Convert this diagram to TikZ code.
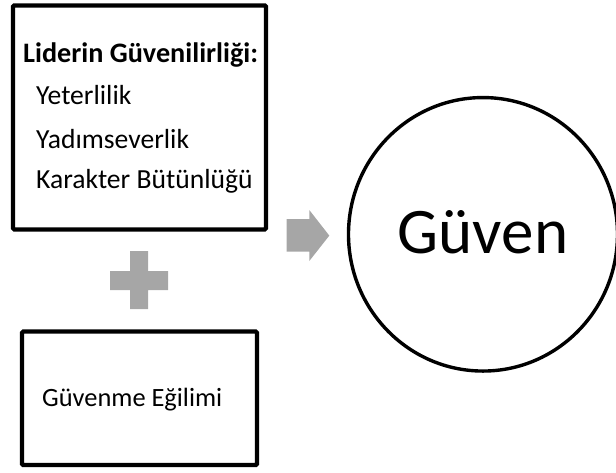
\documentclass[tikz,border=0pt]{standalone}
\usepackage{fontspec}
\setmainfont{Carlito}
\usetikzlibrary{shapes.geometric}
\definecolor{symgray}{HTML}{A6A6A6}
\tikzset{
  box/.style={draw=black, line width=4.2pt, rounded corners=1.2pt, inner sep=0pt},
  ring/.style={draw=black, line width=3.4pt, ellipse, inner sep=0pt},
  txt/.style={anchor=base west, inner sep=0pt, font=\fontsize{27.6}{32}\selectfont},
  symbol/.style={fill=symgray, draw=none}
}
\begin{document}
\begin{tikzpicture}[x=1pt,y=-1pt]
\useasboundingbox (0,0) rectangle (616,472);
\clip (0,0) rectangle (616,472);
% boxes
\node[box, minimum width=253pt, minimum height=224pt] (top) at (139.5,117.4) {};
\node[box, minimum width=235pt, minimum height=133.5pt] (bottom) at (139.5,398.3) {};
\node[ring, minimum width=269pt, minimum height=273.5pt] (guven) at (483,234.3) {};
% texts
\node[txt, font=\fontsize{28.2}{32}\selectfont\bfseries] (t0) at (23,62.3) {Liderin Güvenilirliği:};
\node[txt] (t1) at (36,104) {Yeterlilik};
\node[txt] (t2) at (36,148.3) {Yadımseverlik};
\node[txt] (t3) at (36,188.3) {Karakter Bütünlüğü};
\node[txt, font=\fontsize{26.4}{32}\selectfont] (b1) at (42,406.5) {Güvenme Eğilimi};
\node[anchor=base, inner sep=0pt, font=\fontsize{65}{70}\selectfont] (g1) at (483,253.3) {Güven};
% plus
\fill[symbol] (130,251) -- (148,251) -- (148,271) -- (168,271) -- (168,290) -- (148,290)
  -- (148,309) -- (130,309) -- (130,290) -- (110,290) -- (110,271) -- (130,271) -- cycle;
% arrow
\fill[symbol] (286.7,219) -- (309.3,219) -- (309.3,210) -- (329.3,235.6) -- (309.3,261)
  -- (309.3,251.7) -- (286.7,251.7) -- cycle;
\end{tikzpicture}
\end{document}
